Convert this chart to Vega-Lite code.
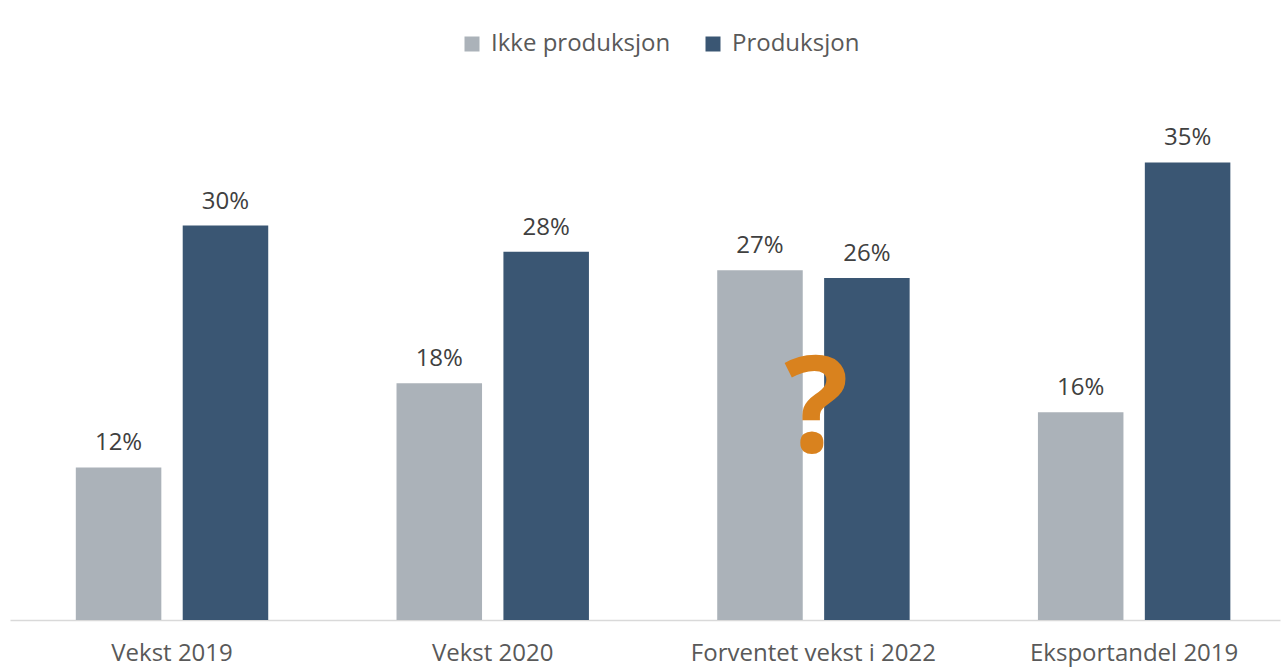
{
  "$schema": "https://vega.github.io/schema/vega-lite/v6.json",
  "width": 1270,
  "height": 526,
  "autosize": {"type": "none"},
  "padding": {"left": 10, "top": 94, "right": 2, "bottom": 49},
  "background": "white",
  "config": {
    "view": {"stroke": null},
    "font": "Open Sans",
    "text": {"font": "Open Sans"}
  },
  "datasets": {
    "bars": [
      {"kategori": "Vekst 2019", "serie": "Ikke produksjon", "verdi": 0.116},
      {"kategori": "Vekst 2019", "serie": "Produksjon", "verdi": 0.30},
      {"kategori": "Vekst 2020", "serie": "Ikke produksjon", "verdi": 0.18},
      {"kategori": "Vekst 2020", "serie": "Produksjon", "verdi": 0.28},
      {"kategori": "Forventet vekst i 2022", "serie": "Ikke produksjon", "verdi": 0.266},
      {"kategori": "Forventet vekst i 2022", "serie": "Produksjon", "verdi": 0.26},
      {"kategori": "Eksportandel 2019", "serie": "Ikke produksjon", "verdi": 0.158},
      {"kategori": "Eksportandel 2019", "serie": "Produksjon", "verdi": 0.348}
    ],
    "note": [
      {"kategori": "Forventet vekst i 2022", "verdi": 0.125, "tekst": "?"}
    ]
  },
  "layer": [
    {
      "data": {"name": "bars"},
      "mark": {"type": "bar"},
      "encoding": {
        "x": {
          "field": "kategori", "type": "nominal", "sort": null,
          "scale": {"paddingInner": 0.4, "paddingOuter": 0.18, "align": 0.57},
          "axis": {
            "title": null, "labelAngle": 0, "ticks": false,
            "domainColor": "#D9D9D9", "domainWidth": 1.5,
            "labelFontSize": 24, "labelColor": "#595959", "labelPadding": 21,
            "labelFont": "Open Sans", "labelLimit": 0
          }
        },
        "xOffset": {
          "field": "serie", "type": "nominal",
          "scale": {"paddingInner": 0.2, "paddingOuter": 0}
        },
        "y": {
          "field": "verdi", "type": "quantitative",
          "scale": {"domain": [0, 0.4], "nice": false},
          "axis": null
        },
        "color": {
          "field": "serie", "type": "nominal",
          "scale": {"domain": ["Ikke produksjon", "Produksjon"], "range": ["#ABB2B9", "#3A5673"]},
          "legend": {
            "title": null, "orient": "none", "direction": "horizontal",
            "legendX": 450, "legendY": -62,
            "symbolType": "square", "symbolSize": 225, "symbolStrokeWidth": 0,
            "labelFontSize": 24, "labelColor": "#595959", "labelFont": "Open Sans",
            "labelOffset": 7, "columnPadding": 30, "padding": 0, "labelLimit": 0
          }
        }
      }
    },
    {
      "data": {"name": "bars"},
      "mark": {"type": "text", "baseline": "alphabetic", "dy": -17, "fontSize": 24, "color": "#404040", "font": "Open Sans"},
      "encoding": {
        "x": {"field": "kategori", "type": "nominal", "sort": null},
        "xOffset": {"field": "serie", "type": "nominal"},
        "y": {"field": "verdi", "type": "quantitative"},
        "text": {"field": "verdi", "type": "quantitative", "format": ".0%"}
      }
    },
    {
      "data": {"name": "note"},
      "mark": {"type": "text", "baseline": "alphabetic", "fontSize": 135, "fontWeight": "bold", "color": "#D9821E", "font": "Open Sans", "dx": 3, "dy": -4},
      "encoding": {
        "x": {"field": "kategori", "type": "nominal", "sort": null},
        "y": {"field": "verdi", "type": "quantitative"},
        "text": {"field": "tekst"}
      }
    }
  ]
}
